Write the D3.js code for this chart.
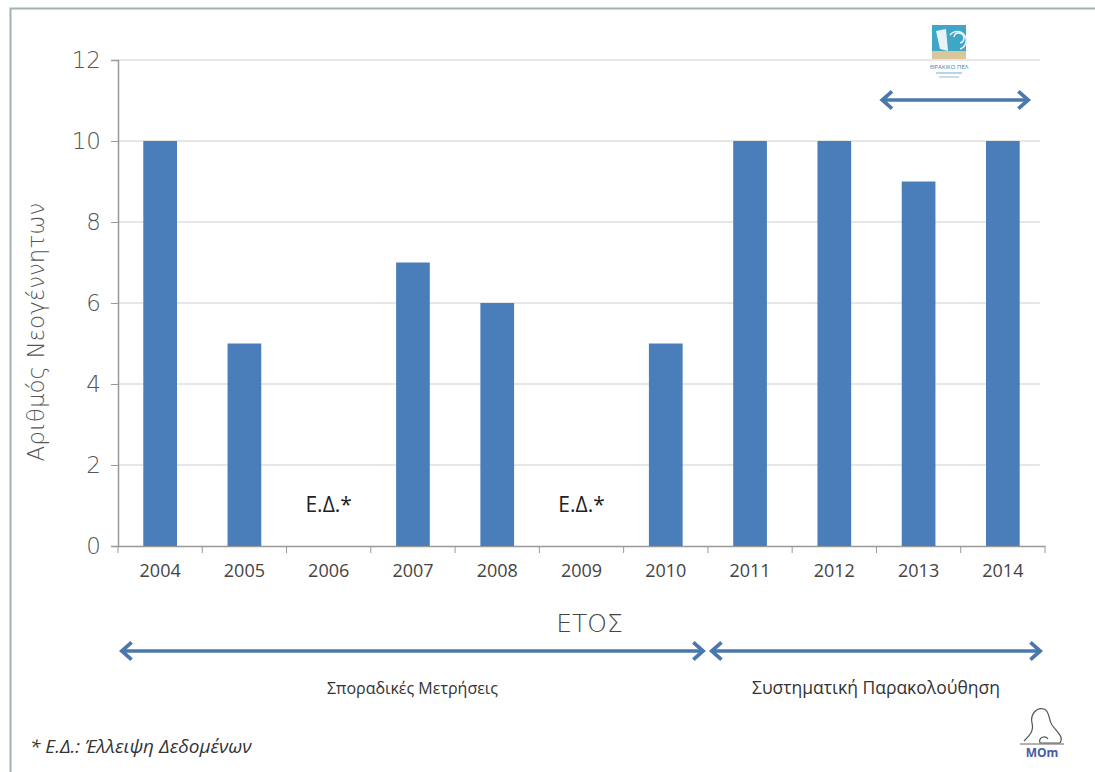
<!DOCTYPE html>
<html>
<head>
<meta charset="utf-8">
<script src="https://cdn.jsdelivr.net/npm/d3@7"></script>
<style>
  body { margin: 0; background: #fff; }
  text { font-family: "Open Sans", "DejaVu Sans", sans-serif; }
</style>
</head>
<body>
<div id="chart"></div>
<script>
// data
const years = ["2004", "2005", "2006", "2007", "2008", "2009", "2010", "2011", "2012", "2013", "2014"];
const births = [10, 5, null, 7, 6, null, 5, 10, 10, 9, 10];
const yTicks = [0, 2, 4, 6, 8, 10, 12];
const missingLabel = "Ε.Δ.*";
const periods = [
  {label: "Σποραδικές Μετρήσεις", from: "2004", to: "2010"},
  {label: "Συστηματική Παρακολούθηση", from: "2011", to: "2014"}
];

const width = 1095, height = 772;
const margin = {top: 60, right: 50, bottom: 226, left: 118};
const barColor = "#4a7ebb";
const arrowColor = "#4a77ad";

const svg = d3.select("#chart").append("svg")
  .attr("width", width)
  .attr("height", height);

// frame
svg.append("path")
  .attr("d", `M10.5,${height} V8.5 H${width}`)
  .attr("fill", "none")
  .attr("stroke", "#a3b3ae")
  .attr("stroke-width", 2);

const x = d3.scaleBand()
  .domain(years)
  .range([margin.left, width - margin.right])
  .paddingInner(0.6)
  .paddingOuter(0.3);

const y = d3.scaleLinear()
  .domain([0, 12])
  .range([height - margin.bottom, margin.top]);

// gridlines
svg.append("g")
  .selectAll("line")
  .data(yTicks.filter(d => d > 0))
  .join("line")
  .attr("x1", margin.left)
  .attr("x2", width - margin.right - 5)
  .attr("y1", d => y(d))
  .attr("y2", d => y(d))
  .attr("stroke", "#d0d0d0")
  .attr("stroke-width", 1.2);

// y axis
const yAxis = svg.append("g")
  .attr("transform", `translate(${margin.left},0)`)
  .call(d3.axisLeft(y).tickValues(yTicks).tickSize(7).tickPadding(10));
yAxis.select(".domain").attr("stroke", "#999").attr("stroke-width", 1.5);
yAxis.selectAll(".tick line").attr("stroke", "#999");
yAxis.selectAll("text")
  .attr("font-size", 23)
  .attr("fill", "#555")
  .style("font-family", "'DejaVu Sans', sans-serif")
  .style("font-weight", 300);

// x axis
const xAxisG = svg.append("g")
  .attr("transform", `translate(0,${y(0)})`)
  .call(d3.axisBottom(x).tickSize(0).tickPadding(18));
xAxisG.select(".domain").attr("stroke", "#999").attr("stroke-width", 1.5);
xAxisG.selectAll("text")
  .attr("font-size", 18)
  .attr("fill", "#444");

const bandEdge = i => margin.left + i * (width - margin.right - margin.left) / years.length;

// band boundary ticks
xAxisG.append("g")
  .selectAll("line")
  .data(d3.range(years.length + 1))
  .join("line")
  .attr("x1", i => bandEdge(i))
  .attr("x2", i => bandEdge(i))
  .attr("y1", 0)
  .attr("y2", 7)
  .attr("stroke", "#999");

// bars
svg.append("g")
  .selectAll("rect")
  .data(years.map((yr, i) => ({yr, v: births[i]})).filter(d => d.v !== null))
  .join("rect")
  .attr("x", d => x(d.yr))
  .attr("width", x.bandwidth())
  .attr("y", d => y(d.v))
  .attr("height", d => y(0) - y(d.v))
  .attr("fill", barColor);

// missing data labels
svg.append("g")
  .selectAll("text")
  .data(years.filter((yr, i) => births[i] === null))
  .join("text")
  .attr("x", d => x(d) + x.bandwidth() / 2)
  .attr("y", y(0.85))
  .attr("text-anchor", "middle")
  .attr("font-size", 21)
  .attr("fill", "#222")
  .text(missingLabel);

// axis titles
svg.append("text")
  .attr("transform", `translate(44,332) rotate(-90)`)
  .attr("text-anchor", "middle")
  .attr("font-size", 23)
  .attr("fill", "#555")
  .style("font-family", "'DejaVu Sans', sans-serif")
  .style("font-weight", 300)
  .text("Αριθμός Νεογέννητων");

svg.append("text")
  .attr("x", (margin.left + width - margin.right) / 2 + 8)
  .attr("y", 632)
  .attr("text-anchor", "middle")
  .attr("font-size", 25)
  .attr("fill", "#444")
  .style("font-family", "'DejaVu Sans', sans-serif")
  .style("font-weight", 300)
  .text("ΕΤΟΣ");

// arrow markers
const defs = svg.append("defs");
["start", "end"].forEach(k => {
  defs.append("marker")
    .attr("id", "arr-" + k)
    .attr("viewBox", "-10 -10 20 20")
    .attr("markerWidth", 7)
    .attr("markerHeight", 7)
    .attr("orient", k === "end" ? "auto" : "auto-start-reverse")
    .attr("refX", 0).attr("refY", 0)
    .append("path")
    .attr("d", "M-7,-7 L1,0 L-7,7")
    .attr("fill", "none")
    .attr("stroke", arrowColor)
    .attr("stroke-width", 3);
});

function arrow(x1, x2, yy) {
  svg.append("line")
    .attr("x1", x1).attr("x2", x2)
    .attr("y1", yy).attr("y2", yy)
    .attr("stroke", arrowColor)
    .attr("stroke-width", 3.5)
    .attr("marker-start", "url(#arr-start)")
    .attr("marker-end", "url(#arr-end)");
}

periods.forEach((p, k) => {
  const i0 = years.indexOf(p.from), i1 = years.indexOf(p.to) + 1;
  const x1 = bandEdge(i0) + 5, x2 = bandEdge(i1) - 6;
  arrow(x1, x2, 651);
  svg.append("text")
    .attr("x", (x1 + x2) / 2)
    .attr("y", 694)
    .attr("text-anchor", "middle")
    .attr("font-size", k === 0 ? 16 : 17.5)
    .attr("fill", "#333")
    .text(p.label);
});

// top arrow spanning 2013-2014
arrow(bandEdge(years.indexOf("2013")) + 7, bandEdge(years.length) - 18, 100);

// top logo (simple)
const logo = svg.append("g").attr("transform", "translate(932,25)");
logo.append("rect").attr("width", 34).attr("height", 34).attr("fill", "#3fa6c8");
logo.append("rect").attr("y", 26).attr("width", 34).attr("height", 8).attr("fill", "#d9c79a");
logo.append("path").attr("d", "M4,6 L14,4 L16,26 L8,24 Z").attr("fill", "#e8f3f7");
logo.append("path").attr("d", "M22,12 a5,5 0 1,1 6,6 M18,10 a9,9 0 1,1 10,14")
  .attr("fill", "none").attr("stroke", "#e8f3f7").attr("stroke-width", 1.5);
logo.append("text").attr("x", 17).attr("y", 44).attr("text-anchor", "middle")
  .attr("font-size", 6).attr("fill", "#3a7fa8").text("ΘΡΑΚΙΚΟ ΠΕΛ");
logo.append("rect").attr("x", 4).attr("y", 47).attr("width", 26).attr("height", 2).attr("fill", "#b9d5e0");
logo.append("rect").attr("x", 7).attr("y", 51).attr("width", 20).attr("height", 2).attr("fill", "#c9dde6");

// bottom-right logo (simple)
const mom = svg.append("g").attr("transform", "translate(1020,705)");
mom.append("path")
  .attr("d", "M4,36 C10,30 14,26 12,18 C10,10 16,2 24,4 C30,6 28,14 32,20 C38,28 44,32 40,38 L20,38 C18,32 26,30 28,34")
  .attr("fill", "none").attr("stroke", "#555").attr("stroke-width", 1.2);
mom.append("line").attr("x1", 0).attr("x2", 44).attr("y1", 39).attr("y2", 39)
  .attr("stroke", "#666").attr("stroke-width", 1);
mom.append("text").attr("x", 22).attr("y", 52).attr("text-anchor", "middle")
  .attr("font-size", 12).attr("font-weight", "bold").attr("fill", "#4a5aa0").text("MOm");

// footnote
svg.append("text")
  .attr("x", 30)
  .attr("y", 753)
  .attr("font-size", 19)
  .attr("font-style", "italic")
  .attr("fill", "#333")
  .text("* Ε.Δ.: Έλλειψη Δεδομένων");
</script>
</body>
</html>
